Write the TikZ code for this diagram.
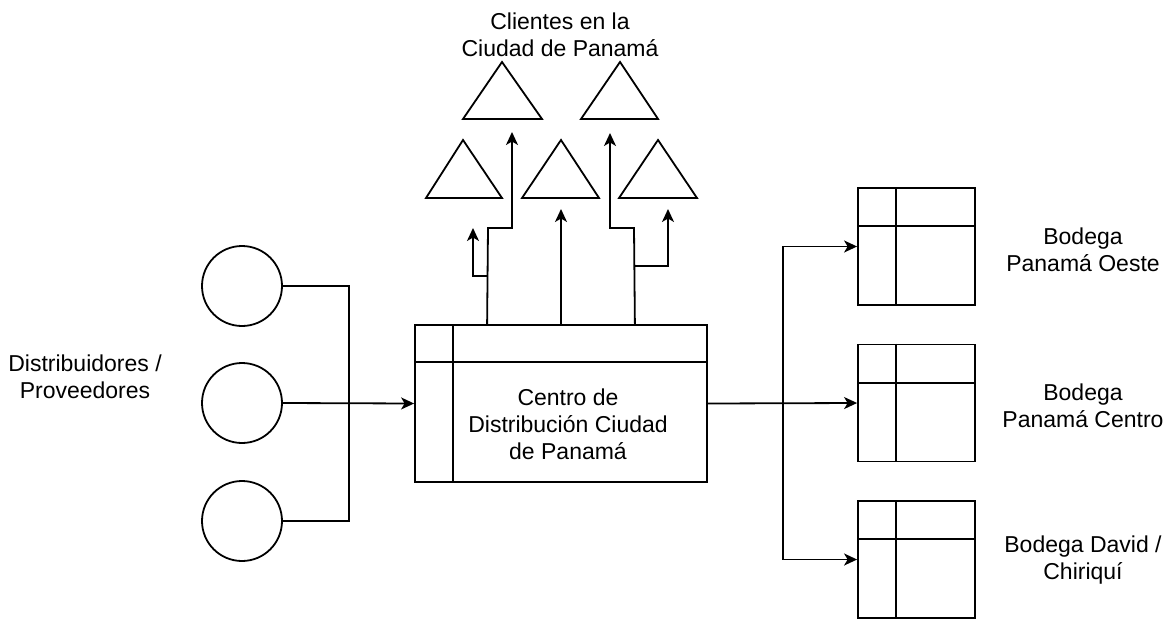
\documentclass[tikz,border=0pt]{standalone}
\usepackage{fontspec}
\setmainfont{Liberation Sans}
\usetikzlibrary{arrows.meta,calc}
\begin{document}
\begin{tikzpicture}[x=1pt,y=-1pt,
  line width=1.8pt,
  lbl/.style={font=\fontsize{23}{27}\selectfont, align=center, inner sep=0pt},
  circ/.style={draw, circle, minimum size=80pt, inner sep=0pt},
  tbox/.style={draw, rectangle, inner sep=0pt},
  arr/.style={-{Stealth[length=13pt,width=12pt,inset=3.5pt]}},
  tri/.style={draw, line join=miter}
]
\useasboundingbox (0,0) rectangle (1173,619);

% text labels
\node[lbl] (tclient) at (560,35) {Clientes en la\\Ciudad de Panamá};
\node[lbl] (tdist) at (85,377) {Distribuidores /\\Proveedores};
\node[lbl] (tb1) at (1083,250) {Bodega\\Panamá Oeste};
\node[lbl] (tb2) at (1083,405.5) {Bodega\\Panamá Centro};
\node[lbl] (tb3) at (1083,560.5) {Bodega David /\\Chiriquí};

% circles
\node[circ] (c1) at (242,286) {};
\node[circ] (c2) at (242,403) {};
\node[circ] (c3) at (242,521) {};

% central box
\node[tbox, minimum width=292pt, minimum height=157pt, lbl] (cd) at (561,403.5) {};
\draw ($(cd.north west)+(39,0)$) -- ($(cd.south west)+(39,0)$);
\draw ($(cd.north west)+(0,38)$) -- ($(cd.north east)+(0,38)$);
\node[lbl] (tcd) at (568,424.5) {Centro de\\Distribución Ciudad\\de Panamá};

% warehouses
\foreach \n/\y in {b1/246.5, b2/403, b3/559.5}{
  \node[tbox, minimum width=117pt, minimum height=117pt] (\n) at (916.5,\y) {};
  \draw ($(\n.north west)+(39,0)$) -- ($(\n.south west)+(39,0)$);
  \draw ($(\n.north west)+(0,39)$) -- ($(\n.north east)+(0,39)$);
}

% triangles
\draw[tri] (463,119) -- (502,62) -- (542,119) -- cycle;
\draw[tri] (581,119) -- (620,62) -- (658,119) -- cycle;
\draw[tri] (426,198) -- (463,140) -- (502,198) -- cycle;
\draw[tri] (522,198) -- (561,140) -- (599,198) -- cycle;
\draw[tri] (619,198) -- (658,140) -- (697,198) -- cycle;

% left connectors
\coordinate (jl) at (349,403);
\draw (c1.east) -| (jl);
\draw (c3.east) -| (jl);
\draw[arr] (c2.east) -- (cd.west);

% right connectors
\coordinate (jr) at (783,403);
\draw[arr] (cd.east) -- (b2.west);
\draw[arr] (jr) |- (b1.west);
\draw[arr] (jr) |- (b3.west);

% top connectors
\coordinate (sL) at ($(cd.north west)+(73,0)$);
\coordinate (sR) at ($(cd.north east)+(-73,0)$);
\coordinate (tA) at (512,132);
\coordinate (tB) at (473,228);
\coordinate (tC) at (561,209);
\coordinate (tD) at (610,133);
\coordinate (tE) at (668,209);
\draw[arr] (sL) -- (488,228) -| (tA);
\draw[arr] (488,276) -| (tB);
\draw[arr] (cd.north) -- (tC);
\draw[arr] (sR) -- (634,228) -| (tD);
\draw[arr] (634,266) -| (tE);
\end{tikzpicture}
\end{document}
